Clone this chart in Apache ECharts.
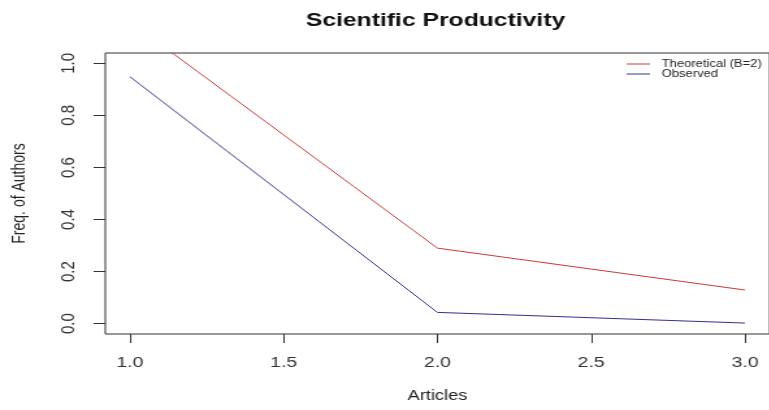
<!DOCTYPE html>
<html>
<head>
<meta charset="utf-8">
<script src="https://cdn.jsdelivr.net/npm/echarts@6/dist/echarts.min.js"></script>
<style>
html,body{margin:0;padding:0;background:#fff;overflow:hidden;width:769px;height:410px}
#c{width:592px;height:410px;transform:scaleX(1.3);transform-origin:0 0}
</style>
</head>
<body>
<div id="c"></div>
<script>
var articles = [1, 2, 3];
var theoretical = [1.16, 0.29, 0.129];
var observed = [0.949, 0.043, 0.002];
var xTicks = [1, 1.5, 2, 2.5, 3];
var yTicks = [0, 0.2, 0.4, 0.6, 0.8, 1.0];

var chart = echarts.init(document.getElementById('c'));
var FONT = '"Liberation Sans", Arial, sans-serif';
chart.setOption({
  animation: false,
  backgroundColor: '#fff',
  title: {
    text: 'Scientific Productivity',
    left: 330, top: 6, textAlign: 'center',
    textStyle: {fontFamily: FONT, fontSize: 19, fontWeight: 'bold', color: '#111'}
  },
  legend: {
    orient: 'vertical', left: 482, top: 59, itemGap: 0, padding: 0,
    icon: 'rect', itemWidth: 18, itemHeight: 1,
    textStyle: {fontFamily: FONT, fontSize: 10, lineHeight: 9, color: '#222', padding: [0,0,0,4]},
    data: ['Theoretical (B=2)', 'Observed']
  },
  grid: {left: 81, top: 53, width: 515, height: 281, show: true, borderColor: '#333', borderWidth: 1, backgroundColor: 'transparent'},
  xAxis: {
    type: 'value', min: 0.92, max: 3.08,
    name: 'Articles', nameLocation: 'middle', nameGap: 55,
    nameTextStyle: {fontFamily: FONT, fontSize: 14, color: '#222'},
    axisLine: {show: false, onZero: false},
    axisTick: {show: true, length: 9, lineStyle: {color: '#333'}, customValues: xTicks},
    axisLabel: {fontFamily: FONT, fontSize: 15, color: '#333', margin: 21, customValues: xTicks,
      formatter: function (v) { return v.toFixed(1); }},
    splitLine: {show: false}
  },
  yAxis: {
    type: 'value', min: -0.04, max: 1.04,
    name: 'Freq. of Authors', nameLocation: 'middle', nameGap: 59,
    nameTextStyle: {fontFamily: FONT, fontSize: 14, color: '#222'},
    axisLine: {show: false, onZero: false},
    axisTick: {show: true, length: 9, lineStyle: {color: '#333'}, customValues: yTicks},
    axisLabel: {fontFamily: FONT, fontSize: 15, color: '#333', margin: 21, rotate: 90, customValues: yTicks,
      formatter: function (v) { return v.toFixed(1); }},
    splitLine: {show: false}
  },
  series: [
    {name: 'Theoretical (B=2)', type: 'line', symbol: 'none', clip: true,
     data: articles.map(function (a, i) { return [a, theoretical[i]]; }),
     lineStyle: {color: '#c83a3a', width: 1}, itemStyle: {color: '#c83a3a'}},
    {name: 'Observed', type: 'line', symbol: 'none', clip: true,
     data: articles.map(function (a, i) { return [a, observed[i]]; }),
     lineStyle: {color: '#33338f', width: 1}, itemStyle: {color: '#33338f'}}
  ]
});
</script>
</body>
</html>
